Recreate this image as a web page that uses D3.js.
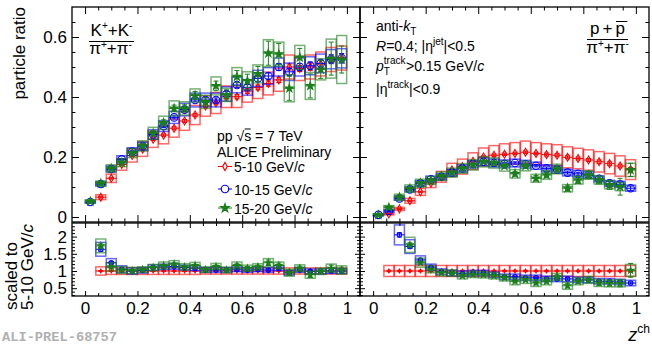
<!DOCTYPE html>
<html><head><meta charset="utf-8">
<script src="https://cdn.jsdelivr.net/npm/d3@7"></script>
<style>
html,body{margin:0;padding:0;background:#fff;}
svg{display:block;}
</style></head><body>
<svg id="c" width="652" height="346"></svg>
<script>
// ---------------- DATA ----------------
const zBins = [0.02,0.06,0.10,0.14,0.18,0.22,0.26,0.30,0.34,0.38,0.42,0.46,0.50,0.54,0.58,0.62,0.66,0.70,0.74,0.78,0.82,0.86,0.90,0.94,0.98];
const seriesNames = ["5-10 GeV/", "10-15 GeV/", "15-20 GeV/"];
const xTickValues = [0,0.2,0.4,0.6,0.8,1];
const xTickLabels = ["0","0.2","0.4","0.6","0.8","1"];
const yTopTickValues = [0,0.2,0.4,0.6];
const yTopTickLabels = ["0","0.2","0.4","0.6"];
const yBotTickValues = [0.5,1,1.5,2];
const yBotTickLabels = ["0.5","1","1.5","2"];

// K/pi (top left)
const kpiRed      = [null,0.066,0.129,0.175,0.205,0.226,0.259,0.273,0.296,0.320,0.340,0.370,0.380,0.401,0.401,0.420,0.432,0.445,0.457,0.500,0.495,0.500,0.510,0.525,0.530];
const kpiRedStat  = [null,0.003,0.003,0.003,0.003,0.004,0.004,0.004,0.005,0.005,0.005,0.006,0.006,0.007,0.007,0.008,0.008,0.009,0.009,0.010,0.010,0.011,0.012,0.012,0.013];
const kpiRedSys   = [null,0.008,0.014,0.019,0.022,0.024,0.027,0.029,0.030,0.031,0.032,0.034,0.035,0.036,0.036,0.037,0.037,0.038,0.038,0.040,0.040,0.040,0.040,0.040,0.040];
const kpiBlue     = [0.050,0.110,0.160,0.192,0.218,0.236,0.275,0.303,0.332,0.358,0.390,0.390,0.390,0.410,0.440,0.432,0.462,0.470,0.500,0.484,0.500,0.504,0.512,0.526,0.529];
const kpiBlueStat = [0.002,0.002,0.003,0.003,0.003,0.004,0.004,0.005,0.005,0.006,0.006,0.007,0.007,0.008,0.008,0.009,0.010,0.010,0.011,0.012,0.012,0.013,0.014,0.015,0.016];
const kpiBlueSys  = [0.004,0.007,0.010,0.012,0.013,0.014,0.016,0.018,0.020,0.021,0.023,0.023,0.023,0.024,0.026,0.026,0.027,0.028,0.030,0.029,0.030,0.030,0.031,0.032,0.032];
const kpiGreen    = [0.052,0.112,0.162,0.181,0.213,0.237,0.279,0.314,0.362,0.362,0.405,0.384,0.437,0.407,0.468,0.454,0.477,0.546,0.543,0.429,0.532,0.437,0.492,0.528,0.525];
const kpiGreenStat= [0.003,0.004,0.005,0.006,0.007,0.008,0.009,0.010,0.011,0.012,0.013,0.014,0.016,0.017,0.020,0.022,0.025,0.040,0.035,0.040,0.030,0.040,0.030,0.055,0.045];
const kpiGreenSys = [0.005,0.008,0.012,0.013,0.015,0.017,0.020,0.022,0.025,0.022,0.022,0.022,0.030,0.022,0.030,0.030,0.030,0.045,0.040,0.045,0.040,0.045,0.035,0.065,0.080];

// p/pi (top right)
const ppiRed      = [null,0.010,0.027,0.054,0.084,0.113,0.134,0.157,0.168,0.186,0.200,0.206,0.209,0.212,0.216,0.212,0.208,0.206,0.199,0.195,0.190,0.184,0.178,0.170,0.158];
const ppiRedStat  = [null,0.001,0.002,0.002,0.002,0.003,0.003,0.003,0.003,0.003,0.004,0.004,0.004,0.004,0.004,0.004,0.005,0.005,0.005,0.005,0.005,0.006,0.006,0.006,0.007];
const ppiRedSys   = [null,0.003,0.005,0.008,0.012,0.015,0.018,0.022,0.025,0.028,0.030,0.032,0.035,0.036,0.037,0.036,0.036,0.035,0.035,0.034,0.034,0.034,0.034,0.034,0.033];
const ppiBlue     = [0.007,0.020,0.062,0.092,0.112,0.126,0.134,0.148,0.162,0.176,0.184,0.180,0.177,0.180,0.176,0.171,0.162,0.158,0.148,0.144,0.140,0.127,0.112,0.109,0.096];
const ppiBlueStat = [0.001,0.002,0.002,0.002,0.002,0.002,0.003,0.003,0.003,0.003,0.003,0.004,0.004,0.004,0.004,0.004,0.005,0.005,0.005,0.005,0.006,0.006,0.006,0.007,0.007];
const ppiBlueSys  = [0.003,0.004,0.006,0.008,0.009,0.010,0.010,0.011,0.012,0.012,0.013,0.013,0.013,0.013,0.013,0.012,0.012,0.012,0.011,0.011,0.011,0.010,0.010,0.010,0.010];
const ppiGreen    = [0.007,0.032,0.066,0.095,0.113,0.122,0.136,0.148,0.162,0.174,0.184,0.180,0.170,0.144,0.170,0.129,0.140,0.160,0.096,0.123,0.140,0.123,0.107,0.101,0.157];
const ppiGreenStat= [0.002,0.003,0.004,0.004,0.004,0.005,0.005,0.005,0.006,0.006,0.006,0.007,0.007,0.008,0.008,0.009,0.009,0.010,0.010,0.011,0.012,0.013,0.015,0.028,0.022];
const ppiGreenSys = [0.003,0.006,0.010,0.012,0.013,0.013,0.014,0.015,0.016,0.017,0.017,0.017,0.017,0.014,0.016,0.013,0.014,0.016,0.012,0.013,0.014,0.013,0.013,0.013,0.022];

// ratios K/pi (bottom left)
const rkRed       = [null,1,1,1,1,1,1,1,1,1,1,1,1,1,1,1,1,1,1,1,1,1,1,1,1];
const rkRedStat   = [null,0.01,0.01,0.01,0.01,0.01,0.01,0.01,0.01,0.01,0.01,0.01,0.01,0.01,0.01,0.01,0.01,0.01,0.01,0.01,0.01,0.01,0.01,0.01,0.01];
const rkRedSys    = [null,0.12,0.10,0.10,0.10,0.10,0.10,0.10,0.10,0.10,0.10,0.09,0.09,0.09,0.09,0.09,0.09,0.09,0.09,0.09,0.09,0.09,0.09,0.09,0.09];
const rkBlue      = [null,1.63,1.24,1.05,1.00,1.02,1.10,1.12,1.13,1.10,1.08,1.03,1.03,1.03,1.05,1.03,1.05,1.03,1.08,0.95,1.03,0.99,0.99,1.00,1.00];
const rkBlueStat  = [null,0.06,0.03,0.02,0.02,0.02,0.02,0.02,0.02,0.02,0.02,0.02,0.02,0.02,0.025,0.025,0.025,0.03,0.03,0.03,0.03,0.03,0.03,0.035,0.035];
const rkBlueSys   = [null,0.20,0.12,0.10,0.09,0.08,0.08,0.08,0.08,0.07,0.07,0.07,0.07,0.07,0.07,0.07,0.07,0.07,0.07,0.07,0.07,0.07,0.07,0.07,0.07];
const rkGreen     = [null,1.73,1.12,1.03,1.01,1.04,1.10,1.16,1.20,1.12,1.16,1.04,1.13,1.03,1.16,1.08,1.12,1.24,1.16,0.95,1.08,0.89,0.99,1.08,1.03];
const rkGreenStat = [null,0.08,0.04,0.03,0.03,0.03,0.03,0.03,0.035,0.035,0.035,0.04,0.04,0.04,0.05,0.05,0.05,0.08,0.07,0.08,0.06,0.08,0.06,0.09,0.08];
const rkGreenSys  = [null,0.20,0.12,0.10,0.09,0.08,0.09,0.10,0.10,0.09,0.09,0.08,0.09,0.08,0.10,0.09,0.09,0.12,0.10,0.10,0.10,0.10,0.09,0.12,0.12];

// ratios p/pi (bottom right)
const rpRed       = [null,1,1,1,1,1,1,1,1,1,1,1,1,1,1,1,1,1,1,1,1,1,1,1,1];
const rpRedStat   = [null,0.02,0.02,0.02,0.02,0.02,0.02,0.02,0.02,0.02,0.02,0.02,0.02,0.02,0.02,0.02,0.02,0.02,0.02,0.02,0.02,0.02,0.02,0.02,0.02];
const rpRedSys    = [null,0.16,0.16,0.16,0.16,0.16,0.16,0.16,0.16,0.16,0.16,0.16,0.16,0.16,0.16,0.16,0.16,0.16,0.16,0.16,0.16,0.16,0.16,0.16,0.16];
const rpBlue      = [null,null,2.05,1.71,1.32,1.11,0.98,0.94,0.92,0.94,0.94,0.89,0.83,0.83,0.80,0.80,0.77,0.77,0.77,0.74,0.74,0.70,0.70,0.68,0.65];
const rpBlueStat  = [null,null,0.06,0.04,0.03,0.02,0.02,0.02,0.02,0.02,0.02,0.02,0.02,0.02,0.02,0.02,0.03,0.03,0.03,0.03,0.03,0.03,0.03,0.03,0.03];
const rpBlueSys   = [null,null,0.29,0.20,0.12,0.09,0.08,0.08,0.08,0.08,0.08,0.08,0.08,0.08,0.08,0.08,0.08,0.08,0.08,0.08,0.08,0.08,0.08,0.08,0.08];
const rpGreen     = [null,null,null,1.76,1.24,1.05,0.95,0.94,0.86,0.90,0.89,0.86,0.80,0.70,0.74,0.65,0.70,0.83,0.57,0.70,0.74,0.65,0.64,0.64,1.02];
const rpGreenStat = [null,null,null,0.06,0.04,0.03,0.03,0.03,0.03,0.03,0.03,0.03,0.04,0.04,0.04,0.05,0.05,0.06,0.06,0.06,0.06,0.07,0.08,0.10,0.20];
const rpGreenSys  = [null,null,null,0.22,0.13,0.10,0.09,0.09,0.09,0.09,0.09,0.09,0.09,0.10,0.10,0.10,0.10,0.10,0.10,0.10,0.10,0.10,0.10,0.10,0.17];

// ---------------- STYLE / LAYOUT ----------------
const FONT = '"Liberation Sans", Arial, Helvetica, sans-serif';
const MONO = '"Liberation Mono", "DejaVu Sans Mono", monospace';
const RED = "#ff0000", BLUE = "#0000ff", GREEN = "#1a7f1a";
const BOXHW = 0.019, XERR = 0.02;
const svg = d3.select("#c").style("font-family", FONT);
const defs = svg.append("defs");

const xL = d3.scaleLinear().domain([-0.05,1.05]).range([72,360]);
const xR = d3.scaleLinear().domain([-0.05,1.05]).range([360,649]);
const yT = d3.scaleLinear().domain([-1/60,0.7]).range([222,7]);
const yB = d3.scaleLinear().domain([0.273,2.395]).range([296,223]);

function clipG(id, x0, y0, x1, y1) {
  defs.append("clipPath").attr("id", id).append("rect")
    .attr("x", x0).attr("y", y0).attr("width", x1 - x0).attr("height", y1 - y0);
  return svg.append("g").attr("clip-path", `url(#${id})`);
}

function series(gp, x, y, vals, stat, sys, color, type, msize, filled) {
  const pts = zBins.map((z, i) => ({z, v: vals[i], st: stat[i], sy: sys[i]})).filter(d => d.v != null);
  const g = gp.append("g");
  g.selectAll("rect").data(pts).join("rect")
    .attr("x", d => x(d.z - BOXHW)).attr("width", d => x(d.z + BOXHW) - x(d.z - BOXHW))
    .attr("y", d => y(d.v + d.sy)).attr("height", d => Math.max(0.5, y(d.v - d.sy) - y(d.v + d.sy)))
    .attr("fill", "none").attr("stroke", color).attr("stroke-opacity", 0.6).attr("stroke-width", 1.5);
  g.selectAll("line.xe").data(pts).join("line").attr("class", "xe")
    .attr("x1", d => x(d.z - XERR)).attr("x2", d => x(d.z + XERR))
    .attr("y1", d => y(d.v)).attr("y2", d => y(d.v)).attr("stroke", color).attr("stroke-width", 1);
  g.selectAll("line.ye").data(pts).join("line").attr("class", "ye")
    .attr("x1", d => x(d.z)).attr("x2", d => x(d.z))
    .attr("y1", d => y(d.v - d.st)).attr("y2", d => y(d.v + d.st)).attr("stroke", color).attr("stroke-width", 1);
  ["lo", "hi"].forEach(k => {
    g.selectAll("line.cap" + k).data(pts).join("line").attr("class", "cap" + k)
      .attr("x1", d => x(d.z) - 2.5).attr("x2", d => x(d.z) + 2.5)
      .attr("y1", d => y(k === "lo" ? d.v - d.st : d.v + d.st)).attr("y2", d => y(k === "lo" ? d.v - d.st : d.v + d.st))
      .attr("stroke", color).attr("stroke-width", 1);
  });
  const sym = d3.symbol().type(type).size(msize);
  g.selectAll("path.m").data(pts).join("path").attr("class", "m")
    .attr("d", sym).attr("transform", d => `translate(${x(d.z)},${y(d.v)})`)
    .attr("fill", filled ? color : "none").attr("stroke", color).attr("stroke-width", 1.1);
}

function panelAxes(x, y, X0, X1, Y0, Y1, yMaj, yMajLab, yMinStep, tl, showX, showY) {
  const g = svg.append("g");
  const xMin = d3.range(0, 1.0001, 0.05).filter(v => Math.abs(v * 5 - Math.round(v * 5)) > 1e-6);
  const [d0, d1] = y.domain();
  const yMin = d3.range(Math.ceil(d0 / yMinStep) * yMinStep, d1, yMinStep)
    .filter(v => !yMaj.some(m => Math.abs(m - v) < 1e-6));
  function add(axis, tx, ty) {
    const a = g.append("g").attr("transform", `translate(${tx},${ty})`).call(axis);
    a.select(".domain").remove();
    a.attr("font-family", FONT).attr("font-size", 17);
    a.selectAll("line").attr("stroke", "#000").attr("stroke-width", 1);
    a.selectAll("text").attr("fill", "#000");
    return a;
  }
  const none = () => "";
  add(d3.axisBottom(x).tickValues(xTickValues).tickSize(-tl.xMaj).tickPadding(6)
      .tickFormat(showX ? (d, i) => xTickLabels[i] : none), 0, Y1);
  add(d3.axisBottom(x).tickValues(xMin).tickSize(-tl.xMin).tickFormat(none), 0, Y1);
  add(d3.axisTop(x).tickValues(xTickValues).tickSize(-tl.xMaj).tickFormat(none), 0, Y0);
  add(d3.axisTop(x).tickValues(xMin).tickSize(-tl.xMin).tickFormat(none), 0, Y0);
  add(d3.axisLeft(y).tickValues(yMaj).tickSize(-tl.yMaj).tickPadding(5)
      .tickFormat(showY ? (d, i) => yMajLab[i] : none), X0, 0);
  add(d3.axisLeft(y).tickValues(yMin).tickSize(-tl.yMin).tickFormat(none), X0, 0);
  add(d3.axisRight(y).tickValues(yMaj).tickSize(-tl.yMaj).tickFormat(none), X1, 0);
  add(d3.axisRight(y).tickValues(yMin).tickSize(-tl.yMin).tickFormat(none), X1, 0);
  g.append("rect").attr("x", X0).attr("y", Y0).attr("width", X1 - X0).attr("height", Y1 - Y0)
    .attr("fill", "none").attr("stroke", "#000").attr("stroke-width", 1.3);
}

// ---------------- PANELS ----------------
const gTL = clipG("cTL", 72, 7, 360, 222);
series(gTL, xL, yT, kpiRed, kpiRedStat, kpiRedSys, RED, d3.symbolDiamond, 18, false);
series(gTL, xL, yT, kpiBlue, kpiBlueStat, kpiBlueSys, BLUE, d3.symbolCircle, 44, false);
series(gTL, xL, yT, kpiGreen, kpiGreenStat, kpiGreenSys, GREEN, d3.symbolStar, 20, true);

const gTR = clipG("cTR", 360, 7, 649, 222);
series(gTR, xR, yT, ppiRed, ppiRedStat, ppiRedSys, RED, d3.symbolDiamond, 18, false);
series(gTR, xR, yT, ppiBlue, ppiBlueStat, ppiBlueSys, BLUE, d3.symbolCircle, 44, false);
series(gTR, xR, yT, ppiGreen, ppiGreenStat, ppiGreenSys, GREEN, d3.symbolStar, 20, true);

const gBL = clipG("cBL", 72, 223, 360, 296);
series(gBL, xL, yB, rkRed, rkRedStat, rkRedSys, RED, d3.symbolDiamond, 4, true);
series(gBL, xL, yB, rkBlue, rkBlueStat, rkBlueSys, BLUE, d3.symbolCircle, 16, false);
series(gBL, xL, yB, rkGreen, rkGreenStat, rkGreenSys, GREEN, d3.symbolStar, 12, true);

const gBR = clipG("cBR", 360, 223, 649, 296);
series(gBR, xR, yB, rpRed, rpRedStat, rpRedSys, RED, d3.symbolDiamond, 4, true);
series(gBR, xR, yB, rpBlue, rpBlueStat, rpBlueSys, BLUE, d3.symbolCircle, 16, false);
series(gBR, xR, yB, rpGreen, rpGreenStat, rpGreenSys, GREEN, d3.symbolStar, 12, true);

const tlTop = {xMaj: 7, xMin: 3.5, yMaj: 7, yMin: 3.5};
const tlBot = {xMaj: 5, xMin: 3, yMaj: 5, yMin: 3};
panelAxes(xL, yT, 72, 360, 7, 222, yTopTickValues, yTopTickLabels, 0.05, tlTop, false, true);
panelAxes(xR, yT, 360, 649, 7, 222, yTopTickValues, yTopTickLabels, 0.05, tlTop, false, false);
panelAxes(xL, yB, 72, 360, 223, 296, yBotTickValues, yBotTickLabels, 0.1, tlBot, true, true);
panelAxes(xR, yB, 360, 649, 223, 296, yBotTickValues, yBotTickLabels, 0.1, tlBot, true, false);

// ---------------- TEXT ----------------
function rich(x, y, parts, opts = {}) {
  const t = svg.append("text").attr("x", x).attr("y", y)
    .attr("font-size", opts.size || 17).attr("text-anchor", opts.anchor || "start")
    .attr("fill", opts.fill || "#000");
  if (opts.rotate) t.attr("transform", `rotate(-90,${x},${y})`);
  if (opts.ls) t.attr("letter-spacing", opts.ls);
  parts.forEach(p => {
    const s = t.append("tspan").text(p.t);
    if (p.size) s.attr("font-size", p.size);
    if (p.dy) s.attr("dy", p.dy);
    if (p.it) s.attr("font-style", "italic");
  });
  return t;
}
function tw(str, size, italic) {
  const t = svg.append("text").attr("font-size", size)
    .attr("font-style", italic ? "italic" : "normal").text(str);
  const w = t.node().getComputedTextLength();
  t.remove();
  return w;
}
function overChar(textSel, idx, dy) {
  const b = textSel.node().getExtentOfChar(idx);
  svg.append("line").attr("x1", b.x + 0.5).attr("x2", b.x + b.width - 0.5)
    .attr("y1", b.y + dy).attr("y2", b.y + dy).attr("stroke", "#000").attr("stroke-width", 1);
}

// axis titles
rich(25, 7, [{t: "particle ratio"}], {rotate: true, anchor: "end"});
rich(17, 310, [{t: "scaled to"}], {rotate: true, anchor: "start"});
rich(33, 310, [{t: "5-10 GeV/"}, {t: "c", it: true}], {rotate: true, anchor: "start"});
rich(650, 341, [{t: "z", it: true, size: 18}, {t: "ch", size: 12, dy: -8}], {anchor: "end"});
svg.append("text").attr("x", 2).attr("y", 341).style("font-family", MONO)
  .attr("font-size", 13.7).attr("font-weight", "bold").attr("fill", "#b0b0b0").text("ALI-PREL-68757");

// K/pi fraction
rich(111.5, 36, [{t: "K"}, {t: "+", size: 10, dy: -7}, {t: "+K", dy: 7}, {t: "-", size: 10, dy: -7}], {anchor: "middle"});
svg.append("line").attr("x1", 89).attr("x2", 134).attr("y1", 41.5).attr("y2", 41.5).attr("stroke", "#000").attr("stroke-width", 1.2);
rich(110.5, 54, [{t: "π"}, {t: "+", size: 10, dy: -6}, {t: "+π", dy: 6}, {t: "-", size: 10, dy: -6}], {anchor: "middle"});

// p/pi fraction
const pnum = rich(609, 34, [{t: "p+p"}], {anchor: "middle", ls: 3});
overChar(pnum, 2, 2.5);
svg.append("line").attr("x1", 587).attr("x2", 628).attr("y1", 39.5).attr("y2", 39.5).attr("stroke", "#000").attr("stroke-width", 1.2);
rich(607.5, 53, [{t: "π"}, {t: "+", size: 10, dy: -6}, {t: "+π", dy: 6}, {t: "-", size: 10, dy: -6}], {anchor: "middle"});

// jet info block
const bx = 376, fs = 14;
rich(bx, 31, [{t: "anti-"}, {t: "k", it: true}, {t: "T", size: 10, dy: 4}], {size: fs});
rich(bx, 51, [{t: "R", it: true}, {t: "=0.4; |η"}, {t: "jet", size: 10, dy: -6}, {t: "|<0.5", dy: 6}], {size: fs});
const wp = tw("p", fs, true);
rich(bx, 71, [{t: "p", it: true}], {size: fs});
rich(bx + wp, 75, [{t: "T", size: 10}], {size: 10});
rich(bx + wp, 64, [{t: "track", size: 10}], {size: 10});
const wtr = tw("track", 10, false);
rich(bx + wp + wtr + 0.5, 71, [{t: ">0.15 GeV/"}, {t: "c", it: true}], {size: fs});
rich(bx, 94, [{t: "|η"}, {t: "track", size: 10, dy: -6}, {t: "|<0.9", dy: 6}], {size: fs});

// legend
const lx = 217;
const ppT = rich(lx, 140.5, [{t: "pp √s = 7 TeV"}], {size: 14});
overChar(ppT, 4, 1.5);
rich(lx, 156.5, [{t: "ALICE Preliminary"}], {size: 14});
const legY = [166.5, 189, 208];
const legCol = [RED, BLUE, GREEN];
const legSym = [d3.symbolDiamond, d3.symbolCircle, d3.symbolStar];
const legSize = [18, 44, 22];
const legFill = [false, false, true];
seriesNames.forEach((name, i) => {
  svg.append("line").attr("x1", 218).attr("x2", 232).attr("y1", legY[i]).attr("y2", legY[i])
    .attr("stroke", legCol[i]).attr("stroke-width", 1);
  svg.append("path").attr("d", d3.symbol().type(legSym[i]).size(legSize[i])())
    .attr("transform", `translate(225,${legY[i]})`)
    .attr("fill", legFill[i] ? legCol[i] : "#fff").attr("stroke", legCol[i]).attr("stroke-width", 1.2);
  rich(234, legY[i] + 5.5, [{t: name}, {t: "c", it: true}], {size: 14});
});
</script>
</body></html>
